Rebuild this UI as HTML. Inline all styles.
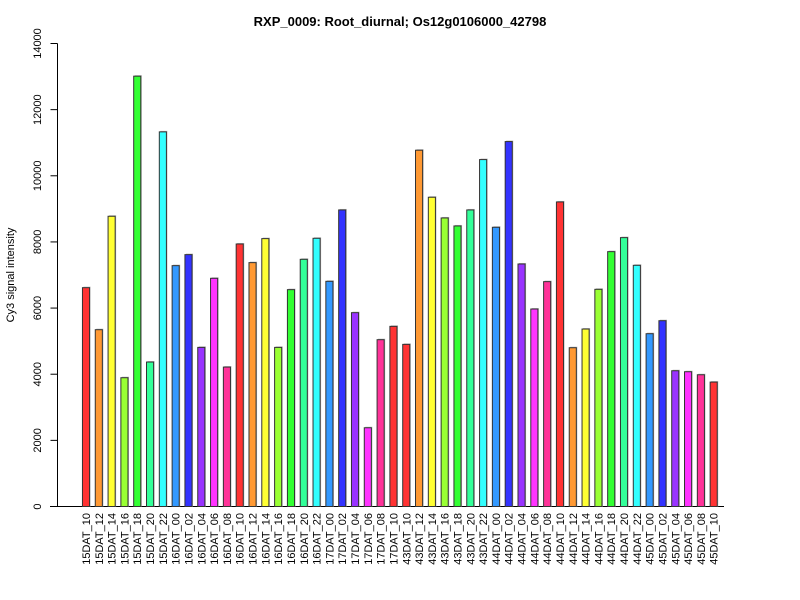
<!DOCTYPE html>
<html><head><meta charset="utf-8"><style>
body{margin:0;background:#fff;}
svg{display:block;font-family:"Liberation Sans",Arial,sans-serif;}
</style></head><body>
<svg id="chart" width="800" height="600">
<rect width="800" height="600" fill="#fff"/>
<text x="400" y="26" text-anchor="middle" font-size="13" font-weight="bold">RXP_0009: Root_diurnal; Os12g0106000_42798</text>
<text transform="translate(14,275) rotate(-90)" text-anchor="middle" font-size="11">Cy3 signal intensity</text>
<g id="axis"></g><g id="bars"></g><g id="labels"></g>
</svg>
<script>
const categories=["15DAT_10","15DAT_12","15DAT_14","15DAT_16","15DAT_18","15DAT_20","15DAT_22","16DAT_00","16DAT_02","16DAT_04","16DAT_06","16DAT_08","16DAT_10","16DAT_12","16DAT_14","16DAT_16","16DAT_18","16DAT_20","16DAT_22","17DAT_00","17DAT_02","17DAT_04","17DAT_06","17DAT_08","17DAT_10","43DAT_10","43DAT_12","43DAT_14","43DAT_16","43DAT_18","43DAT_20","43DAT_22","44DAT_00","44DAT_02","44DAT_04","44DAT_06","44DAT_08","44DAT_10","44DAT_12","44DAT_14","44DAT_16","44DAT_18","44DAT_20","44DAT_22","45DAT_00","45DAT_02","45DAT_04","45DAT_06","45DAT_08","45DAT_10"];
const values=[6617,5346,8776,3894,13012,4368,11328,7283,7616,4811,6900,4216,7938,7374,8100,4811,6557,7474,8110,6809,8967,5861,2381,5044,5447,4902,10773,9351,8725,8483,8967,10490,8443,11035,7333,5971,6799,9209,4801,5366,6567,7706,8130,7293,5225,5618,4105,4075,3984,3762];
const yTicks=[0,2000,4000,6000,8000,10000,12000,14000];
const palette=["#FF3333","#FF9933","#FFFF33","#99FF33","#33FF33","#33FF99","#33FFFF","#3399FF","#3333FF","#9933FF","#FF33FF","#FF3399"];
const NS="http://www.w3.org/2000/svg";
const y0=506.5,yTop=43.5,yMax=14000;
const yS=v=>y0-(v/yMax)*(y0-yTop);
const step=12.81,x0=86,bw=7.1;
const xS=i=>x0+i*step;
function mk(t,a,p){const e=document.createElementNS(NS,t);for(const k in a)e.setAttribute(k,a[k]);p.appendChild(e);return e;}
const ax=document.getElementById('axis'),bg=document.getElementById('bars'),lg=document.getElementById('labels');
let yl=mk('line',{x1:57.5,x2:57.5,y1:yS(14000),y2:yS(0),stroke:'#000'},ax);


yTicks.forEach(t=>{
 const tk=mk('line',{x1:50.5,x2:57.5,y1:yS(t),y2:yS(t),stroke:'#000'},ax);
 
 
 const tx=mk('text',{transform:`translate(${41},${yS(t)}) rotate(-90)`,'text-anchor':'middle','font-size':11},ax);
 tx.textContent=t;
 
 
});
let xl=mk('line',{x1:50,x2:724,y1:yS(0),y2:yS(0),stroke:'#000'},ax);


categories.forEach((c,i)=>{
 const h=parseInt(c.split('_')[1],10);
 const col=palette[((h/2-5)%12+12)%12];
 const cx=xS(i);
 const sh=mk('rect',{x:cx-bw/2+1,y:yS(values[i])-1,width:bw,height:yS(0)-yS(values[i])+1,fill:'#bbb'},bg);
 
 
 const r=mk('rect',{x:cx-bw/2,y:yS(values[i]),width:bw,height:yS(0)-yS(values[i]),fill:col,stroke:'#333','stroke-width':1},bg);
 
 
 const t=mk('text',{transform:`translate(${cx+4},513) rotate(-90)`,'text-anchor':'end','font-size':11},lg);
 t.textContent=c;
 
 
});
</script>
</body></html>
